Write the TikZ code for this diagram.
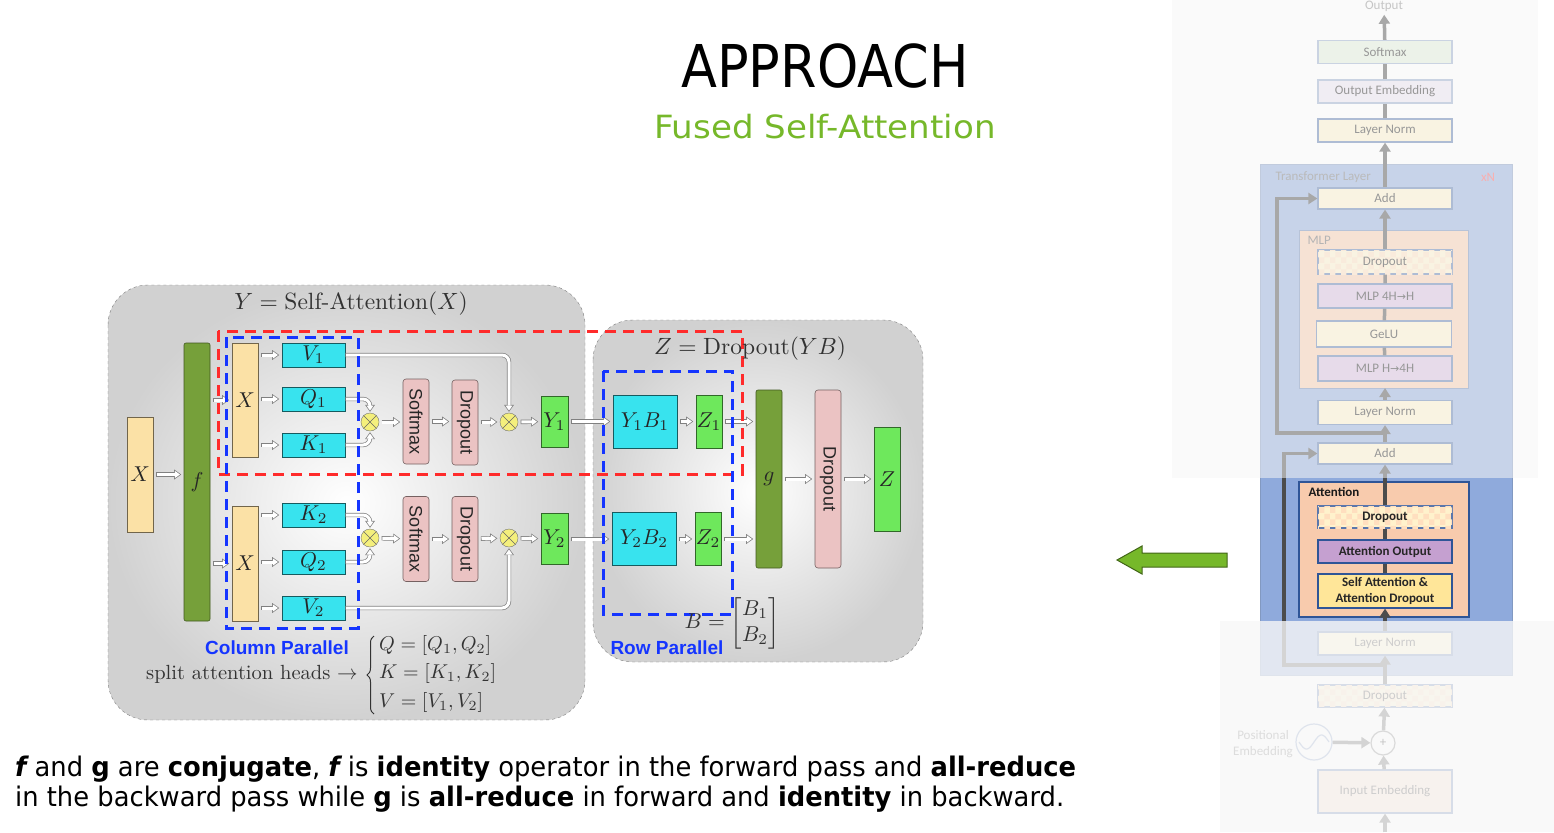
\documentclass[tikz,border=0pt]{standalone}
\usepackage{amsmath}
\usepackage{graphicx}
\usepackage{fontspec}
\newfontfamily\slidefont{DejaVu Sans}
\newfontfamily\arialfont{Liberation Sans}
\newfontfamily\calfont{Carlito}
\newfontfamily\arrowfont{DejaVu Sans}
\usetikzlibrary{arrows.meta,patterns,decorations.pathreplacing}

\definecolor{inpcol}{HTML}{FBE1A6}
\definecolor{fcol}{HTML}{76A03A}
\definecolor{qkvcol}{HTML}{38E3EE}
\definecolor{opcol}{HTML}{EBC3C3}
\definecolor{rescol}{HTML}{6EE85C}
\definecolor{otcol}{HTML}{F4EF7C}
\definecolor{redd}{HTML}{FF2B2B}
\definecolor{blued}{HTML}{1535FF}
\definecolor{nvgreen}{HTML}{76B82A}
\definecolor{tlblue}{HTML}{8FAADC}
\definecolor{dkblue}{HTML}{2F5597}
\definecolor{peach}{HTML}{F8CBAD}
\definecolor{lyel}{HTML}{FFF2CC}
\definecolor{myel}{HTML}{FFE699}
\definecolor{lpurp}{HTML}{C5A0D0}
\definecolor{lgrn}{HTML}{D6EACB}
\definecolor{pgray}{HTML}{E4D9EC}

% math of the figure: 10pt design, blown up
\newcommand\bmath[1]{\scalebox{2.15}{$#1$}}
\newcommand\hmath[1]{\scalebox{2.35}{$#1$}}
\newcommand\rmath[1]{\scalebox{2}{$#1$}}
\newcommand\opfont{\arialfont\fontsize{18}{20}\selectfont}
\newcommand\tfont{\calfont\fontsize{13}{16}\selectfont}

\begin{document}
\begin{tikzpicture}[x=1pt,y=-1pt,
  blk/.style={draw=black!55, line width=0.6pt, inner sep=0pt, text=black!85},
  inp/.style={blk, fill=inpcol, draw=inpcol!45!black, minimum width=26pt},
  bar/.style={blk, fill=fcol, draw=fcol!55!black, minimum width=26pt, rounded corners=2pt},
  qkv/.style={blk, fill=qkvcol, draw=qkvcol!40!black, minimum width=63pt, minimum height=24pt},
  opbox/.style={blk, fill=opcol, draw=opcol!50!black, minimum width=26pt, rounded corners=3pt, font=\opfont},
  res/.style={blk, fill=rescol, draw=rescol!45!black, minimum width=27pt, minimum height=51pt},
  otim/.style={circle, draw=black!55, fill=otcol, minimum size=18pt, inner sep=0pt},
  % hollow arrow: grey outline with a white core
  dar/.style={draw=black!50, line width=4.4pt, shorten <=2.5pt, shorten >=2.5pt,
    -{Triangle[length=7pt,width=10pt,line width=0pt]},
    postaction={draw=white, line width=3pt, shorten <=3.2pt, shorten >=3.8pt,
    -{Triangle[length=5pt,width=7.2pt,line width=0pt]}}},
  bentdar/.style={draw=black!50, line width=4.4pt, rounded corners=7pt, shorten >=1pt,
    -{Triangle[length=7pt,width=10pt,line width=0pt]},
    postaction={draw=white, line width=3pt, shorten <=0.7pt, shorten >=2.3pt,
    -{Triangle[length=5pt,width=7.2pt,line width=0pt]}}},
  panel/.style={draw=black!50, dashed, rounded corners=40pt, inner color=white, outer color=black!18},
  rdash/.style={draw=redd, line width=3pt, dash pattern=on 11pt off 7pt},
  bdash/.style={draw=blued, line width=3pt, dash pattern=on 11pt off 7pt},
  tbox/.style={draw=dkblue!80, line width=1.2pt, minimum width=134pt, minimum height=23pt, inner sep=0pt, font=\tfont, text=black!85},
  chk/.style={tbox, fill=lyel, postaction={pattern=checkerboard, pattern color=orange!25}},
  tline/.style={draw=black!70, line width=3.5pt},
  tarr/.style={tline, -{Triangle[length=9pt,width=11pt]}}]
\useasboundingbox (0,0) rectangle (1554,832);

% title
\node[anchor=base] (ttl) at (825,88) {\slidefont\fontsize{59}{60}\selectfont\scalebox{0.89}[1]{APPROACH}};
\node[anchor=base, text=nvgreen] (sub) at (825,139) {\slidefont\fontsize{32}{36}\selectfont\scalebox{1.065}[1]{Fused Self-Attention}};

% the two panels
\shadedraw[panel] (108,285) rectangle (585,720);
\shadedraw[panel] (593,320) rectangle (923,662);

% self-attention part
\node[inp, minimum height=115pt] (x0) at (140,474.5) {\bmath{X}};
\node[bar, minimum height=278pt] (f) at (197,482) {\bmath{f}};
\node[inp, minimum height=114pt] (x1) at (245,400) {\bmath{X}};
\node[inp, minimum height=115pt] (x2) at (245,563.5) {\bmath{X}};
\foreach \n/\y/\t in {v1/355/V_1,q1/399/Q_1,k1/445/K_1,k2/515/K_2,q2/562/Q_2,v2/608/V_2}
  \node[qkv] (\n) at (313.5,\y) {\bmath{\t}};
\foreach \n/\x/\y in {m1/370/422,m2/509/422,m3/370/538,m4/509/538}
  \node[otim] (\n) at (\x,\y) {};
\foreach \n in {m1,m2,m3,m4}
  \draw[black!60, line width=0.6pt] (\n.45) -- (\n.225) (\n.135) -- (\n.315);
\foreach \n/\x/\y/\t in {s1/416/421.5/Softmax,d1/465/422.5/Dropout,s2/416/539/Softmax,d2/465/539/Dropout}
  \node[opbox, minimum height=85pt] (\n) at (\x,\y) {\rotatebox{-90}{\t}};
\node[res] (y1) at (554.5,421.5) {\bmath{Y_1}};
\node[res] (y2) at (554.5,539) {\bmath{Y_2}};

% row parallel part
\node[qkv, minimum width=64pt, minimum height=53pt] (yb1) at (645,421.5) {\bmath{Y_1B_1}};
\node[res, minimum width=26pt, minimum height=53pt] (z1) at (709,421.5) {\bmath{Z_1}};
\node[qkv, minimum width=64pt, minimum height=53pt] (yb2) at (644,539) {\bmath{Y_2B_2}};
\node[res, minimum width=26pt, minimum height=53pt] (z2) at (708,539) {\bmath{Z_2}};
\node[bar, minimum height=178pt] (g) at (769,479) {\bmath{g}};
\node[opbox, minimum height=178pt] (d3) at (828,479) {\rotatebox{-90}{Dropout}};
\node[res, minimum width=26pt, minimum height=104pt] (z) at (887,479) {\bmath{Z}};

% arrows
\draw[dar] (x0.east) -- (x0.east -| f.west);
\draw[dar] (f.east |- x1) -- (x1);
\draw[dar] (f.east |- x2) -- (x2);
\foreach \n in {v1,q1,k1} \draw[dar] (x1.east |- \n) -- (\n);
\foreach \n in {k2,q2,v2} \draw[dar] (x2.east |- \n) -- (\n);
\draw[bentdar] (q1) -| (m1);
\draw[bentdar] (k1) -| (m1);
\draw[bentdar] (k2) -| (m3);
\draw[bentdar] (q2) -| (m3);
\draw[bentdar] (v1) -| (m2);
\draw[bentdar] (v2) -| (m4);
\draw[dar] (m1) -- (m1 -| s1.west);
\draw[dar] (s1) -- (s1 -| d1.west);
\draw[dar] (d1.east |- m2) -- (m2);
\draw[dar] (m2) -- (y1);
\draw[dar] (m3) -- (s2);
\draw[dar] (s2) -- (d2);
\draw[dar] (d2) -- (m4);
\draw[dar] (m4) -- (y2);
\draw[dar] (y1) -- (yb1);
\draw[dar] (y2) -- (yb2);
\draw[dar] (yb1) -- (z1);
\draw[dar] (yb2) -- (z2);
\draw[dar] (z1.east) -- (z1.east -| g.west);
\draw[dar] (z2.east) -- (z2.east -| g.west);
\draw[dar] (g) -- (d3);
\draw[dar] (d3) -- (z);

% tensor / row parallel frames
\draw[rdash] (218,331) rectangle (742,474);
\draw[bdash] (226,337) rectangle (358,628);
\draw[bdash] (603,371) rectangle (732,614);

% labels
\node[text=black!80] (hdy) at (351,304) {\hmath{Y=\text{Self-Attention}(X)}};
\node[text=black!80] (hdz) at (750,349) {\hmath{Z=\text{Dropout}(YB)}};
\node[text=blued] (colp) at (277,648) {\arialfont\bfseries\fontsize{19}{22}\selectfont Column Parallel};
\node[text=blued] (rowp) at (667,648) {\arialfont\bfseries\fontsize{19}{22}\selectfont Row Parallel};
\node[text=black!80] (bmat) at (732,623) {\bmath{B=\begin{bmatrix}B_1\\B_2\end{bmatrix}}};
\node[anchor=west, text=black!80, inner sep=0pt] (heads) at (146,674) {\scalebox{2.05}{split attention heads $\rightarrow$}};
\coordinate (brb) at (374,714);
\coordinate (brt) at (374,636);
\draw[black!80, line width=1pt, decorate, decoration={brace, amplitude=7pt}] (brb) -- (brt);
\foreach \n/\y/\t in {qdef/645/{Q=[Q_1,Q_2]},kdef/673/{K=[K_1,K_2]},vdef/702/{V=[V_1,V_2]}}
  \node[anchor=west, text=black!80, inner sep=0pt] (\n) at (379,\y) {\rmath{\t}};

% bottom text
\node[anchor=base west, inner sep=0pt] (ln1t) at (15,776) {\slidefont\fontsize{27}{30}\selectfont\scalebox{0.955}[1]{{\bfseries\itshape f} and {\bfseries g} are {\bfseries conjugate}, {\bfseries\itshape f} is {\bfseries identity} operator in the forward pass and {\bfseries all-reduce}}};
\node[anchor=base west, inner sep=0pt] (ln2t) at (15,806) {\slidefont\fontsize{27}{30}\selectfont\scalebox{0.955}[1]{in the backward pass while {\bfseries g} is {\bfseries all-reduce} in forward and {\bfseries identity} in backward.}};

% big arrow
\filldraw[fill=nvgreen, draw=nvgreen!55!black, line width=1pt] (1227,553) -- (1142,553) -- (1142,546) -- (1117,560) -- (1142,574) -- (1142,567) -- (1227,567) -- cycle;

% transformer layer
\draw[fill=tlblue, draw=dkblue!60, line width=1pt] (1260,164) rectangle (1512,675);
\node[anchor=west, text=black!55, font=\tfont] (tll) at (1272,177) {Transformer Layer};
\node[text=red!65, font=\tfont] (xn) at (1488,177) {xN};
\draw[fill=peach, draw=dkblue!70, line width=1pt] (1299,230) rectangle (1468,388);
\node[anchor=west, text=black!60, font=\tfont] (mlpl) at (1304,240) {MLP};
\draw[fill=peach, draw=dkblue, line width=1.5pt] (1299,482) rectangle (1469,617);
\node[anchor=west, text=black!90, font=\tfont\bfseries] (attl) at (1305,492) {Attention};

\node[text=black!45, font=\tfont] (out) at (1384,6) {Output};
\node[tbox, fill=lgrn!70, draw=dkblue!50] (sm) at (1385,52) {Softmax};
\node[tbox, fill=pgray!70, draw=dkblue!50] (oe) at (1385,91.5) {Output Embedding};
\node[tbox, fill=lyel] (ln3) at (1385,130.5) {Layer Norm};
\node[tbox, fill=lyel, minimum height=21pt] (add2) at (1385,198.5) {Add};
\node[chk, minimum height=24pt] (do2) at (1385,262) {Dropout};
\node[tbox, fill=lpurp!70, minimum height=24pt] (l2) at (1385,296) {MLP 4H{\arrowfont\fontsize{11}{13}\selectfont→}H};
\node[tbox, fill=lyel, minimum width=135pt, minimum height=26pt] (gelu) at (1384,334) {GeLU};
\node[tbox, fill=lpurp!70, minimum height=25pt] (l1) at (1385,368.5) {MLP H{\arrowfont\fontsize{11}{13}\selectfont→}4H};
\node[tbox, fill=lyel, minimum height=24pt] (ln2) at (1385,412.5) {Layer Norm};
\node[tbox, fill=lyel, minimum height=21pt] (add1) at (1385,453.5) {Add};
\node[chk, minimum height=22pt, font=\tfont\bfseries] (do1) at (1385,517) {Dropout};
\node[tbox, fill=lpurp, draw=dkblue, font=\tfont\bfseries] (ao) at (1385,551.5) {Attention Output};
\node[tbox, fill=myel, draw=dkblue, minimum height=34pt, align=center, font=\tfont\bfseries] (sa) at (1385,591) {Self Attention \&\\Attention Dropout};
\node[tbox, fill=lyel] (ln1) at (1385,643.5) {Layer Norm};
\node[chk, minimum height=22pt] (do0) at (1385,696) {Dropout};
\node[circle, draw=black!60, line width=1.2pt, minimum size=24pt, inner sep=0pt, font=\tfont] (plus) at (1383,743) {+};
\node[circle, draw=tlblue!90!black, line width=1.2pt, minimum size=36pt] (pe) at (1314,742) {};
\draw[tlblue!90!black, line width=1.2pt, domain=-15:15, samples=40] plot ({1314+\x},{742-7*sin(\x*12)});
\node[align=center, text=black!55, font=\tfont] (pel) at (1263,744) {Positional\\Embedding};
\node[tbox, fill=peach!60, minimum height=43pt] (ie) at (1385,791.5) {Input Embedding};
\coordinate (bot) at (1385,832);
\coordinate (j1) at (1385,665);
\coordinate (j2) at (1385,433);

% transformer connectors
\draw[tarr] (bot) -- (ie);
\draw[tarr] (ie) -- (plus);
\draw[tarr] (pe) -- (plus);
\draw[tarr] (plus) -- (do0);
\draw[tarr] (do0) -- (ln1);
\draw[tarr] (j1) -- (1284,665) |- (add1.west);
\draw[tarr] (ln1) -- (sa);
\draw[tline] (sa) -- (ao) (ao) -- (do1);
\draw[tarr] (do1) -- (add1);
\draw[tarr] (add1) -- (ln2);
\draw[tarr] (j2) -- (1277,433) |- (add2.west);
\draw[tarr] (ln2) -- (1385,388);
\draw[tline] (l1) -- (gelu) (gelu) -- (l2) (l2) -- (do2);
\draw[tarr] (do2) -- (add2);
\draw[tarr] (add2) -- (ln3);
\draw[tline] (ln3) -- (oe) (oe) -- (sm);
\draw[tarr] (sm) -- (out);

% fading of the parts that are not looked at
\fill[white!96!black, opacity=0.55] (1172,0) rectangle (1538,478);
\fill[white!97!black, opacity=0.8] (1220,621) rectangle (1554,832);
\end{tikzpicture}
\end{document}
